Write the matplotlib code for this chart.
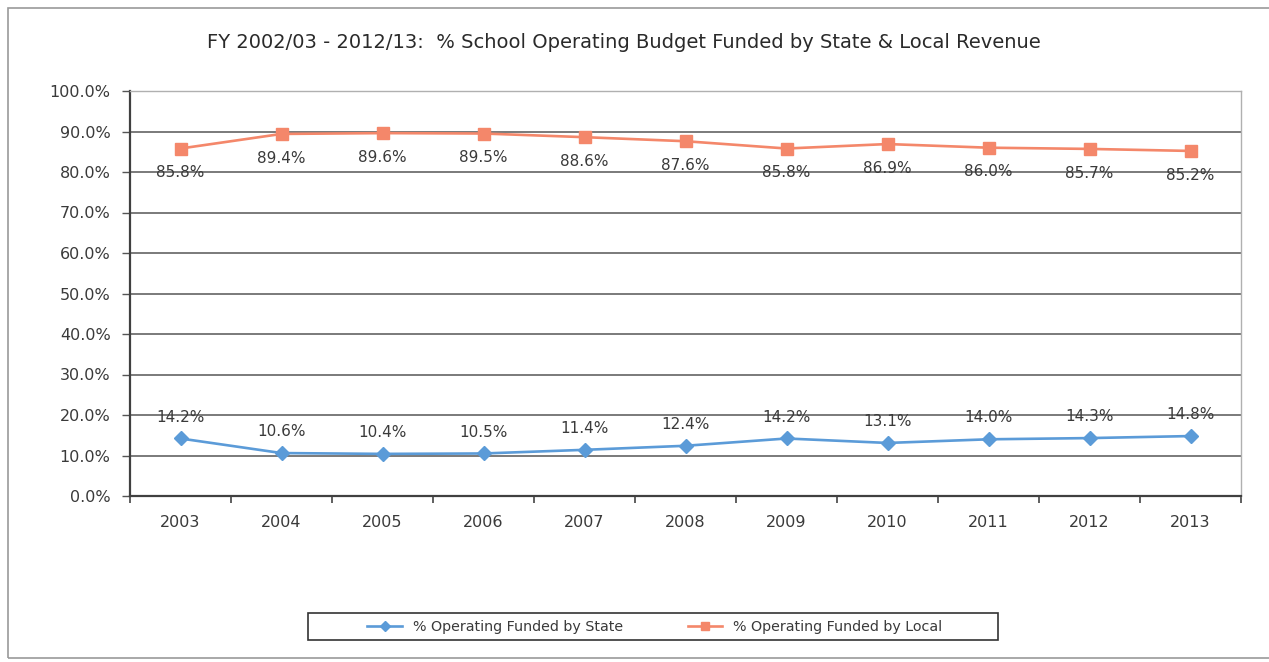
import matplotlib
matplotlib.use("Agg")
import matplotlib.pyplot as plt
from matplotlib.patches import Rectangle
from matplotlib.ticker import FuncFormatter, MultipleLocator

years = ["2003", "2004", "2005", "2006", "2007", "2008", "2009", "2010", "2011", "2012", "2013"]
state_pct = [14.2, 10.6, 10.4, 10.5, 11.4, 12.4, 14.2, 13.1, 14.0, 14.3, 14.8]
local_pct = [85.8, 89.4, 89.6, 89.5, 88.6, 87.6, 85.8, 86.9, 86.0, 85.7, 85.2]

STATE_COLOR = "#5b9bd8"
LOCAL_COLOR = "#f4876a"
TEXT_COLOR = "#3a3a3a"

plt.rcParams["font.family"] = ["DejaVu Sans"]

W, H = 1269, 662
fig = plt.figure(figsize=(W / 100, H / 100), dpi=100)
fig.patch.set_facecolor("white")

# outer chart frame
fig.patches.append(Rectangle((8 / W, 4 / H), 1 - 8 / W + 0.01, 1 - 12 / H,
                             transform=fig.transFigure, fill=False,
                             edgecolor="#9a9a9a", linewidth=1.2))

ax = fig.add_axes([130 / W, 1 - 496 / H, (1241 - 130) / W, (496 - 91) / H])
x = list(range(len(years)))

ax.set_xlim(-0.5, len(years) - 0.5)
ax.set_ylim(0, 100)
ax.yaxis.set_major_locator(MultipleLocator(10))
ax.yaxis.set_major_formatter(FuncFormatter(lambda v, _: f"{v:.1f}%"))
ax.set_xticks(x)
ax.set_xticklabels(years)
ax.set_xticks([i - 0.5 for i in range(len(years) + 1)], minor=True)
ax.tick_params(axis="x", which="major", length=0, pad=14, labelsize=11.5, labelcolor=TEXT_COLOR)
ax.tick_params(axis="x", which="minor", length=5, width=1.2, color="#444444", direction="out")
ax.tick_params(axis="y", length=6, width=1.0, color="#555555", pad=8, labelsize=11.5, labelcolor=TEXT_COLOR)

ax.grid(axis="y", color="#7a7a7a", linewidth=1.4)
ax.set_axisbelow(True)
for side in ("top", "right"):
    ax.spines[side].set_color("#b0b0b0")
    ax.spines[side].set_linewidth(1.0)
for side in ("left", "bottom"):
    ax.spines[side].set_color("#404040")
    ax.spines[side].set_linewidth(1.6)

ax.plot(x, state_pct, color=STATE_COLOR, linewidth=1.9, marker="D", markersize=7,
        label="% Operating Funded by State")
ax.plot(x, local_pct, color=LOCAL_COLOR, linewidth=1.9, marker="s", markersize=8,
        label="% Operating Funded by Local")

for xi, v in zip(x, state_pct):
    ax.annotate(f"{v:.1f}%", (xi, v), xytext=(0, 10), textcoords="offset points",
                ha="center", va="bottom", fontsize=11, color=TEXT_COLOR)
for xi, v in zip(x, local_pct):
    ax.annotate(f"{v:.1f}%", (xi, v), xytext=(0, -12), textcoords="offset points",
                ha="center", va="top", fontsize=11, color=TEXT_COLOR)

fig.text(624 / W, 1 - 42 / H,
         "FY 2002/03 - 2012/13:  % School Operating Budget Funded by State & Local Revenue",
         ha="center", va="center", fontsize=14, color="#2a2a2a")

leg = fig.legend(loc="center", bbox_to_anchor=(655 / W, 1 - 627 / H), ncol=2,
                 frameon=False, fontsize=10.3, handlelength=2.4,
                 columnspacing=4.5, markerscale=0.7)
for t in leg.get_texts():
    t.set_color(TEXT_COLOR)

# legend box
fig.patches.append(Rectangle((308 / W, 1 - 640 / H), (998 - 308) / W, 27 / H,
                             transform=fig.transFigure, fill=False,
                             edgecolor="#333333", linewidth=1.2))

fig.savefig("out.png", dpi=100)
